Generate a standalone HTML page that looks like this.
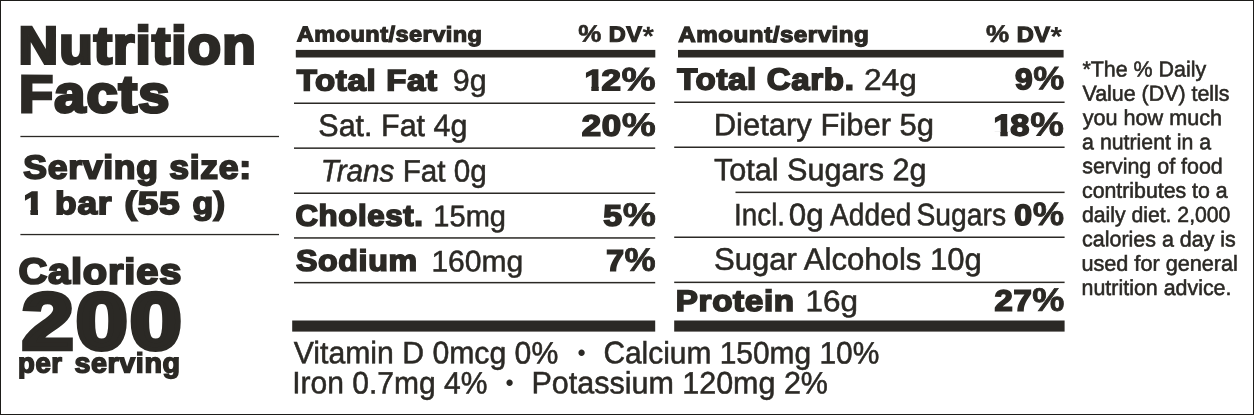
<!DOCTYPE html>
<html lang="en"><head><meta charset="utf-8"><title>Nutrition Facts</title>
<style>
html,body{margin:0;padding:0;background:#fff;}
#label{will-change:transform;position:relative;width:1254px;height:415px;overflow:hidden;background:#fff;font-family:"Liberation Sans",sans-serif;color:#2b2925;}
#frame{position:absolute;left:0;top:0;width:1252px;height:413px;border:1px solid #1d1c19;pointer-events:none;}
header,section,footer,#serving,#calories{display:block;margin:0;padding:0;}
.t{position:absolute;left:0;top:0;white-space:nowrap;line-height:1;transform-origin:0 0;color:#2b2925;-webkit-text-stroke-color:#2b2925;}
.h{font-weight:bold;letter-spacing:0.02em;}
svg{position:absolute;left:0;top:0;}
.ast{font-size:1.25em;line-height:0;vertical-align:-0.14em;-webkit-text-stroke-width:0;}.pc{font-size:1.1em;line-height:0;-webkit-text-stroke-width:0.025em;}.one{display:inline-block;clip-path:polygon(-0.1em -0.1em,0.7em -0.1em,0.7em 0.685em,0.408em 0.685em,0.408em 1.1em,0.198em 1.1em,0.198em 0.685em,-0.1em 0.685em);margin-right:-0.09em;}
</style></head><body>
<div id="label">
<svg width="1254" height="415" viewBox="0 0 1254 415" fill="#2b2925" aria-hidden="true"><rect x="20.4" y="135.85" width="258.6" height="1.3"/><rect x="20.4" y="233.9" width="258.6" height="1.3"/><rect x="295.8" y="49.9" width="359.5" height="7.6"/><rect x="294.0" y="102.5" width="361.2" height="1.5"/><rect x="294.0" y="147.4" width="361.2" height="1.5"/><rect x="294.0" y="192.5" width="361.2" height="1.5"/><rect x="294.0" y="237.2" width="361.2" height="1.5"/><rect x="294.0" y="281.9" width="361.2" height="1.5"/><rect x="292.2" y="320.5" width="363.0" height="11.1"/><rect x="678.0" y="49.9" width="385.6" height="7.6"/><rect x="674.2" y="101.5" width="390.4" height="1.5"/><rect x="674.2" y="146.5" width="390.4" height="1.5"/><rect x="735.5" y="191.6" width="329.1" height="1.5"/><rect x="674.2" y="236.5" width="390.4" height="1.5"/><rect x="674.2" y="281.6" width="390.4" height="1.5"/><rect x="674.2" y="320.5" width="390.4" height="11.1"/></svg>
<header id="title">
<span class="t h" id="nutrition" style="font-size:50px;transform:translate(18.44px,19.24px) scale(1.0971,1.0540) rotate(0.03deg);-webkit-text-stroke-width:2.85px;">Nutrition</span>
<span class="t h" id="facts" style="font-size:50px;transform:translate(18.92px,68.15px) scale(1.1184,1.0443) rotate(0.03deg);-webkit-text-stroke-width:2.85px;">Facts</span>
</header>
<div id="serving">
<span class="t h" id="serv1" style="font-size:32px;transform:translate(23.25px,150.57px) scale(1.1108,1.0347) rotate(0.03deg);-webkit-text-stroke-width:1.76px;">Serving size:</span>
<span class="t h" id="serv2a" style="font-size:32px;transform:translate(23.43px,187.13px) scale(1.1174,0.9955) rotate(0.03deg);-webkit-text-stroke-width:1.76px;"><span class='one'>1</span></span>
<span class="t h" id="serv2b" style="font-size:32px;transform:translate(55.13px,187.19px) scale(1.1048,0.9931) rotate(0.03deg);-webkit-text-stroke-width:1.76px;">bar</span>
<span class="t h" id="serv2c" style="font-size:32px;transform:translate(124.58px,187.13px) scale(1.1623,0.9955) rotate(0.03deg);-webkit-text-stroke-width:1.76px;">(55</span>
<span class="t h" id="serv2d" style="font-size:32px;transform:translate(192.49px,187.26px) scale(1.0596,0.9907) rotate(0.03deg);-webkit-text-stroke-width:1.76px;">g)</span>
</div>
<div id="calories">
<span class="t h" id="cal" style="font-size:36px;transform:translate(18.45px,253.54px) scale(1.1075,1.0019) rotate(0.03deg);-webkit-text-stroke-width:1.98px;">Calories</span>
<span class="t h" id="n200" style="font-size:80px;transform:translate(21.90px,281.89px) scale(1.1691,0.9985) rotate(0.03deg);-webkit-text-stroke-width:4.80px;">200</span>
<span class="t h" id="persa" style="font-size:27px;transform:translate(18.06px,349.78px) scale(1.0176,1.0332) rotate(0.03deg);-webkit-text-stroke-width:1.49px;">per</span>
<span class="t h" id="persb" style="font-size:27px;transform:translate(74.57px,349.68px) scale(1.0618,1.0349) rotate(0.03deg);-webkit-text-stroke-width:1.49px;">serving</span>
</div>
<section id="table1">
<span class="t h" id="amt1" style="font-size:21px;transform:translate(296.83px,22.93px) scale(1.1198,1.0351) rotate(0.03deg);-webkit-text-stroke-width:1.16px;">Amount/serving</span>
<span class="t h" id="dv1" style="font-size:21px;transform:translate(578.28px,22.91px) scale(1.1231,1.0416) rotate(0.03deg);-webkit-text-stroke-width:1.16px;"><span class='pc'>%</span> DV<span class='ast'>*</span></span>
<span class="t h" id="tfat" style="font-size:29px;transform:translate(296.72px,66.02px) scale(1.1369,1.0220) rotate(0.03deg);-webkit-text-stroke-width:1.59px;">Total Fat</span>
<span class="t r" id="g9" style="font-size:31px;transform:translate(452.88px,65.39px) scale(0.9823,0.9770) rotate(0.03deg);-webkit-text-stroke-width:0.53px;">9g</span>
<span class="t h" id="p12" style="font-size:29px;transform:translate(584.47px,65.87px) scale(1.2039,1.0160) rotate(0.03deg);-webkit-text-stroke-width:1.59px;"><span class='one'>1</span>2<span class='pc'>%</span></span>
<span class="t r" id="sat" style="font-size:31px;transform:translate(318.34px,110.06px) scale(0.9836,1.0000) rotate(0.03deg);-webkit-text-stroke-width:0.53px;">Sat. Fat 4g</span>
<span class="t h" id="p20" style="font-size:29px;transform:translate(581.76px,111.27px) scale(1.1978,1.0193) rotate(0.03deg);-webkit-text-stroke-width:1.59px;">20<span class='pc'>%</span></span>
<span class="t r" id="trans" style="font-size:31px;transform:translate(320.73px,155.36px) scale(0.9574,1.0000) rotate(0.03deg);-webkit-text-stroke-width:0.53px;"><i>Trans</i> Fat 0g</span>
<span class="t h" id="chol" style="font-size:29px;transform:translate(295.47px,201.06px) scale(1.0759,1.0278) rotate(0.03deg);-webkit-text-stroke-width:1.59px;">Cholest.</span>
<span class="t r" id="mg15" style="font-size:31px;transform:translate(433.34px,201.19px) scale(0.9377,0.9654) rotate(0.03deg);-webkit-text-stroke-width:0.53px;">15mg</span>
<span class="t h" id="p5" style="font-size:29px;transform:translate(603.29px,201.22px) scale(1.1654,1.0196) rotate(0.03deg);-webkit-text-stroke-width:1.59px;">5<span class='pc'>%</span></span>
<span class="t h" id="sod" style="font-size:29px;transform:translate(295.97px,246.22px) scale(1.1086,1.0240) rotate(0.03deg);-webkit-text-stroke-width:1.59px;">Sodium</span>
<span class="t r" id="mg160" style="font-size:31px;transform:translate(431.41px,246.27px) scale(0.9701,0.9666) rotate(0.03deg);-webkit-text-stroke-width:0.53px;">160mg</span>
<span class="t h" id="p7" style="font-size:29px;transform:translate(606.20px,246.23px) scale(1.0962,1.0202) rotate(0.03deg);-webkit-text-stroke-width:1.59px;">7<span class='pc'>%</span></span>
</section>
<section id="table2">
<span class="t h" id="amt2" style="font-size:21px;transform:translate(678.37px,23.17px) scale(1.1525,1.0453) rotate(0.03deg);-webkit-text-stroke-width:1.16px;">Amount/serving</span>
<span class="t h" id="dv2" style="font-size:21px;transform:translate(985.99px,23.17px) scale(1.1259,1.0453) rotate(0.03deg);-webkit-text-stroke-width:1.16px;"><span class='pc'>%</span> DV<span class='ast'>*</span></span>
<span class="t h" id="tcarb" style="font-size:29px;transform:translate(677.19px,64.56px) scale(1.1388,1.0424) rotate(0.03deg);-webkit-text-stroke-width:1.59px;">Total Carb.</span>
<span class="t r" id="g24" style="font-size:31px;transform:translate(864.07px,64.69px) scale(1.0206,0.9759) rotate(0.03deg);-webkit-text-stroke-width:0.53px;">24g</span>
<span class="t h" id="p9" style="font-size:29px;transform:translate(1015.08px,64.87px) scale(1.0938,1.0175) rotate(0.03deg);-webkit-text-stroke-width:1.59px;">9<span class='pc'>%</span></span>
<span class="t r" id="fiber" style="font-size:31px;transform:translate(713.65px,109.25px) scale(0.9995,1.0000) rotate(0.03deg);-webkit-text-stroke-width:0.53px;">Dietary Fiber 5g</span>
<span class="t h" id="p18" style="font-size:29px;transform:translate(993.62px,110.63px) scale(1.1862,1.0319) rotate(0.03deg);-webkit-text-stroke-width:1.59px;"><span class='one'>1</span>8<span class='pc'>%</span></span>
<span class="t r" id="tsug" style="font-size:31px;transform:translate(713.91px,154.25px) scale(0.9871,1.0000) rotate(0.03deg);-webkit-text-stroke-width:0.53px;">Total Sugars 2g</span>
<span class="t r" id="incl1" style="font-size:31px;transform:translate(734.03px,199.22px) scale(0.8976,1.0000) rotate(0.03deg);-webkit-text-stroke-width:0.53px;">Incl.</span>
<span class="t r" id="incl2" style="font-size:31px;transform:translate(788.79px,199.25px) scale(1.0110,1.0000) rotate(0.03deg);-webkit-text-stroke-width:0.53px;">0g</span>
<span class="t r" id="incl3" style="font-size:31px;transform:translate(830.06px,199.22px) scale(0.9081,1.0000) rotate(0.03deg);-webkit-text-stroke-width:0.53px;">Added</span>
<span class="t r" id="incl4" style="font-size:31px;transform:translate(916.46px,199.25px) scale(0.9125,1.0000) rotate(0.03deg);-webkit-text-stroke-width:0.53px;">Sugars</span>
<span class="t h" id="p0" style="font-size:29px;transform:translate(1014.28px,200.71px) scale(1.1034,1.0160) rotate(0.03deg);-webkit-text-stroke-width:1.59px;">0<span class='pc'>%</span></span>
<span class="t r" id="salc" style="font-size:31px;transform:translate(714.00px,243.75px) scale(1.0028,1.0000) rotate(0.03deg);-webkit-text-stroke-width:0.53px;">Sugar Alcohols 10g</span>
<span class="t h" id="prot" style="font-size:29px;transform:translate(675.78px,286.34px) scale(1.1445,1.0249) rotate(0.03deg);-webkit-text-stroke-width:1.59px;">Protein</span>
<span class="t r" id="g16" style="font-size:31px;transform:translate(805.43px,286.26px) scale(1.0149,0.9641) rotate(0.03deg);-webkit-text-stroke-width:0.53px;">16g</span>
<span class="t h" id="p27" style="font-size:29px;transform:translate(994.55px,286.22px) scale(1.1294,1.0207) rotate(0.03deg);-webkit-text-stroke-width:1.59px;">27<span class='pc'>%</span></span>
</section>
<section id="vitamins">
<span class="t r" id="vitd" style="font-size:31px;transform:translate(293.74px,337.28px) scale(0.9737,1.0000) rotate(0.03deg);-webkit-text-stroke-width:0.53px;">Vitamin D 0mcg 0%</span>
<span class="t r" id="b1" style="font-size:31px;transform:translate(577.46px,341.05px) scale(0.7522,0.7522) rotate(0.03deg);">&bull;</span>
<span class="t r" id="calc" style="font-size:31px;transform:translate(603.39px,337.36px) scale(0.9647,1.0000) rotate(0.03deg);-webkit-text-stroke-width:0.53px;">Calcium 150mg 10%</span>
<span class="t r" id="iron" style="font-size:31px;transform:translate(292.28px,367.35px) scale(0.9680,1.0000) rotate(0.03deg);-webkit-text-stroke-width:0.53px;">Iron 0.7mg 4%</span>
<span class="t r" id="b2" style="font-size:31px;transform:translate(505.46px,371.05px) scale(0.7522,0.7522) rotate(0.03deg);">&bull;</span>
<span class="t r" id="pot" style="font-size:31px;transform:translate(531.55px,367.34px) scale(0.9830,1.0000) rotate(0.03deg);-webkit-text-stroke-width:0.53px;">Potassium 120mg 2%</span>
</section>
<footer id="footnote">
<span class="t r" id="f0" style="font-size:21.7px;transform:translate(1082.47px,58.55px) scale(0.9864,1.0000) rotate(0.03deg);-webkit-text-stroke-width:0.56px;">*The % Daily</span>
<span class="t r" id="f1" style="font-size:21.7px;transform:translate(1082.56px,82.79px) scale(0.9861,1.0000) rotate(0.03deg);-webkit-text-stroke-width:0.56px;">Value (DV) tells</span>
<span class="t r" id="f2" style="font-size:21.7px;transform:translate(1082.71px,107.06px) scale(0.9966,1.0000) rotate(0.03deg);-webkit-text-stroke-width:0.56px;">you how much</span>
<span class="t r" id="f3" style="font-size:21.7px;transform:translate(1082.13px,131.31px) scale(0.9817,1.0000) rotate(0.03deg);-webkit-text-stroke-width:0.56px;">a nutrient in a</span>
<span class="t r" id="f4" style="font-size:21.7px;transform:translate(1082.20px,155.36px) scale(0.9881,1.0000) rotate(0.03deg);-webkit-text-stroke-width:0.56px;">serving of food</span>
<span class="t r" id="f5" style="font-size:21.7px;transform:translate(1082.01px,179.75px) scale(0.9822,1.0000) rotate(0.03deg);-webkit-text-stroke-width:0.56px;">contributes to a</span>
<span class="t r" id="f6" style="font-size:21.7px;transform:translate(1081.89px,203.96px) scale(0.9777,1.0000) rotate(0.03deg);-webkit-text-stroke-width:0.56px;">daily diet. 2,000</span>
<span class="t r" id="f7" style="font-size:21.7px;transform:translate(1082.13px,228.36px) scale(0.9882,1.0000) rotate(0.03deg);-webkit-text-stroke-width:0.56px;">calories a day is</span>
<span class="t r" id="f8" style="font-size:21.7px;transform:translate(1081.41px,252.79px) scale(0.9985,1.0000) rotate(0.03deg);-webkit-text-stroke-width:0.56px;">used for general</span>
<span class="t r" id="f9" style="font-size:21.7px;transform:translate(1081.56px,276.96px) scale(0.9868,1.0000) rotate(0.03deg);-webkit-text-stroke-width:0.56px;">nutrition advice.</span>
</footer>
<div id="frame"></div>
</div>
</body></html>
